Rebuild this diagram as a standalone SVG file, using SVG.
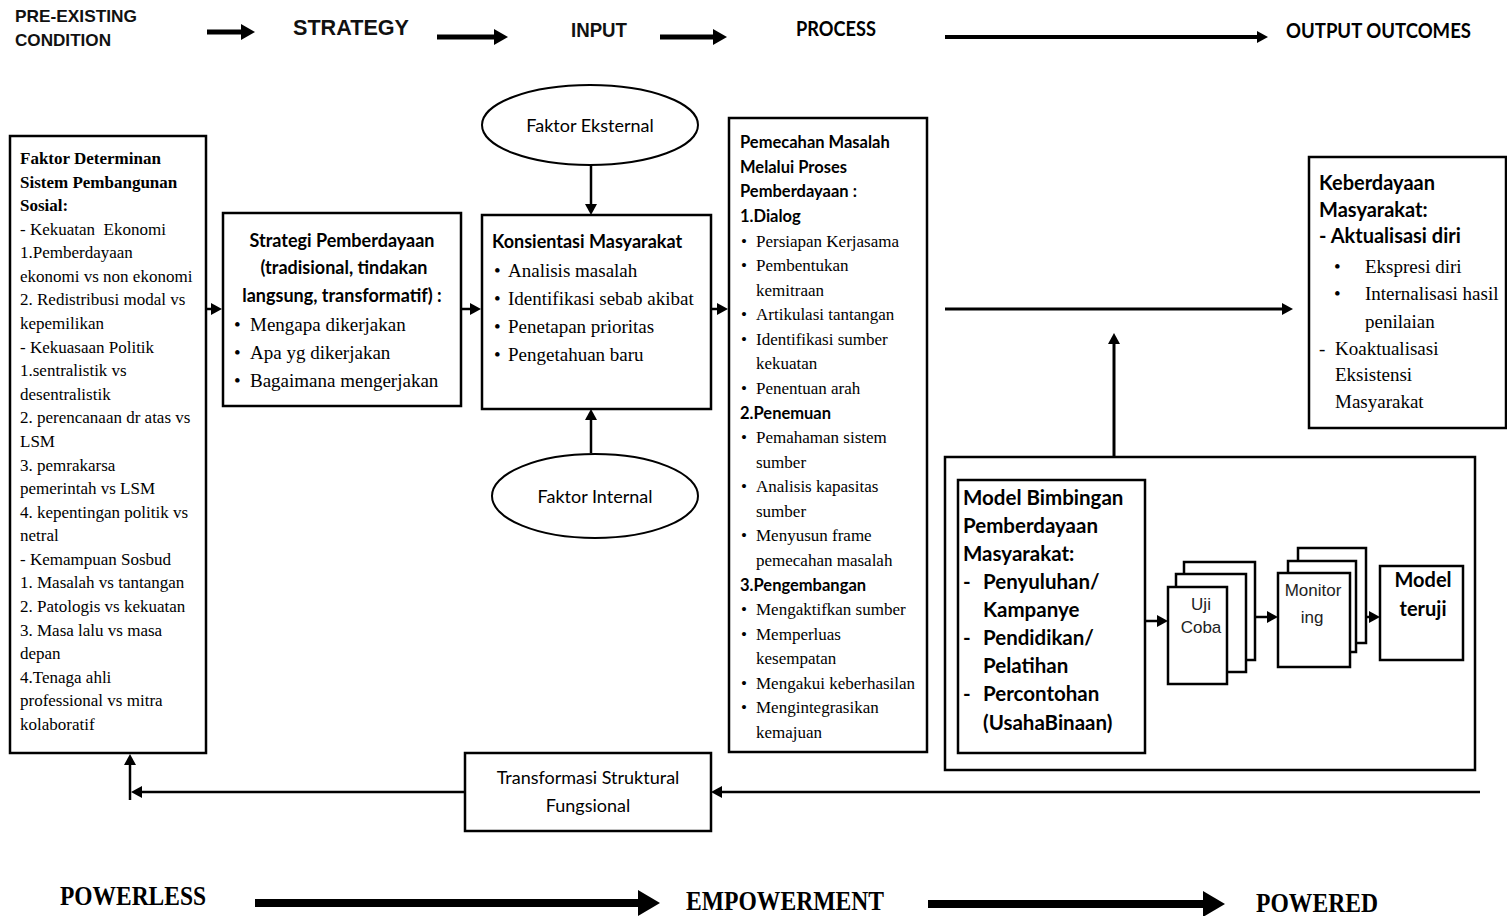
<svg xmlns="http://www.w3.org/2000/svg" width="1507" height="916" viewBox="0 0 1507 916">
<style>
.bx{fill:#fff;stroke:#000;stroke-width:2.5}
.el{fill:#fff;stroke:#000;stroke-width:2}
.hd{font-family:"Liberation Sans",Arial,sans-serif;font-weight:bold;fill:#111}
.cal{font-family:Lato,"Open Sans",sans-serif;fill:#000}
.cb{font-family:Lato,"Open Sans",sans-serif;font-weight:bold;fill:#000}
.sr{font-family:"Liberation Serif","Times New Roman",serif;fill:#000}
.srb{font-family:"Liberation Serif","Times New Roman",serif;font-weight:bold;fill:#000}
.ar{font-family:"Liberation Sans",Arial,sans-serif;fill:#222}
.big{font-family:"Liberation Serif",serif;font-weight:bold;fill:#000}
.c{stroke:#000;fill:none}
</style>
<defs>
<marker id="mh" markerUnits="userSpaceOnUse" markerWidth="14" markerHeight="16" refX="1" refY="8" orient="auto"><path d="M0,0 L14,8 L0,16 z" fill="#000"/></marker>
<marker id="ms" markerUnits="userSpaceOnUse" markerWidth="11" markerHeight="12" refX="1" refY="6" orient="auto"><path d="M0,0 L11,6 L0,12 z" fill="#000"/></marker>
<marker id="mb" markerUnits="userSpaceOnUse" markerWidth="22" markerHeight="26" refX="1" refY="13" orient="auto"><path d="M0,0 L22,13 L0,26 z" fill="#000"/></marker>
</defs>
<rect width="1507" height="916" fill="#fff"/>

<g id="header">
<text class="hd" x="15" y="22" font-size="17" textLength="122" lengthAdjust="spacingAndGlyphs">PRE-EXISTING</text>
<text class="hd" x="15" y="46" font-size="17" textLength="96" lengthAdjust="spacingAndGlyphs">CONDITION</text>
<text class="hd" x="293" y="35" font-size="22" textLength="116" lengthAdjust="spacingAndGlyphs">STRATEGY</text>
<text class="hd" x="571" y="37" font-size="20" textLength="56" lengthAdjust="spacingAndGlyphs">INPUT</text>
<text class="cb" x="796" y="36" font-size="20" textLength="80" lengthAdjust="spacingAndGlyphs">PROCESS</text>
<text class="cb" x="1286" y="38" font-size="21" textLength="185" lengthAdjust="spacingAndGlyphs">OUTPUT OUTCOMES</text>
</g>

<g id="faktor-determinan">
<rect class="bx" x="10" y="136" width="196" height="617"/>
<g font-size="17">
<text class="srb" x="20" y="164">Faktor Determinan</text>
<text class="srb" x="20" y="188">Sistem Pembangunan</text>
<text class="srb" x="20" y="211">Sosial:</text>
<text class="sr" x="20" y="235" xml:space="preserve">- Kekuatan  Ekonomi</text>
<text class="sr" x="20" y="258">1.Pemberdayaan</text>
<text class="sr" x="20" y="282">ekonomi vs non ekonomi</text>
<text class="sr" x="20" y="305">2. Redistribusi modal vs</text>
<text class="sr" x="20" y="329">kepemilikan</text>
<text class="sr" x="20" y="353">- Kekuasaan Politik</text>
<text class="sr" x="20" y="376">1.sentralistik vs</text>
<text class="sr" x="20" y="400">desentralistik</text>
<text class="sr" x="20" y="423">2. perencanaan dr atas vs</text>
<text class="sr" x="20" y="447">LSM</text>
<text class="sr" x="20" y="471">3. pemrakarsa</text>
<text class="sr" x="20" y="494">pemerintah vs LSM</text>
<text class="sr" x="20" y="518">4. kepentingan politik vs</text>
<text class="sr" x="20" y="541">netral</text>
<text class="sr" x="20" y="565">- Kemampuan Sosbud</text>
<text class="sr" x="20" y="588">1. Masalah vs tantangan</text>
<text class="sr" x="20" y="612">2. Patologis vs kekuatan</text>
<text class="sr" x="20" y="636">3. Masa lalu vs masa</text>
<text class="sr" x="20" y="659">depan</text>
<text class="sr" x="20" y="683">4.Tenaga ahli</text>
<text class="sr" x="20" y="706">professional vs mitra</text>
<text class="sr" x="20" y="730">kolaboratif</text>
</g>
</g>

<g id="strategi">
<rect class="bx" x="223" y="213" width="238" height="193"/>
<text class="cb" x="342" y="247" font-size="18" text-anchor="middle">Strategi Pemberdayaan</text>
<text class="cb" x="344" y="274" font-size="18" text-anchor="middle">(tradisional, tindakan</text>
<text class="cb" x="342" y="302" font-size="18" text-anchor="middle">langsung, transformatif) :</text>
<g class="sr" font-size="19">
<text x="234" y="331">•</text><text x="250" y="331">Mengapa dikerjakan</text>
<text x="234" y="359">•</text><text x="250" y="359">Apa yg dikerjakan</text>
<text x="234" y="387">•</text><text x="250" y="387">Bagaimana mengerjakan</text>
</g>
</g>

<g id="faktor-eksternal">
<ellipse class="el" cx="590" cy="125" rx="108" ry="40"/>
<text class="cal" x="590" y="132" font-size="18" text-anchor="middle">Faktor Eksternal</text>
</g>

<g id="konsientasi">
<rect class="bx" x="482" y="215" width="229" height="194"/>
<text class="cb" x="492" y="248" font-size="18">Konsientasi Masyarakat</text>
<g class="sr" font-size="19">
<text x="494" y="277">•</text><text x="508" y="277">Analisis masalah</text>
<text x="494" y="305">•</text><text x="508" y="305">Identifikasi sebab akibat</text>
<text x="494" y="333">•</text><text x="508" y="333">Penetapan prioritas</text>
<text x="494" y="361">•</text><text x="508" y="361">Pengetahuan baru</text>
</g>
</g>

<g id="faktor-internal">
<ellipse class="el" cx="595" cy="496" rx="103" ry="42"/>
<text class="cal" x="595" y="503" font-size="18" text-anchor="middle">Faktor Internal</text>
</g>

<g id="pemecahan">
<rect class="bx" x="729" y="118" width="198" height="634"/>
<g font-size="16.5">
<text class="cb" x="740" y="148">Pemecahan Masalah</text>
<text class="cb" x="740" y="173">Melalui Proses</text>
<text class="cb" x="740" y="197">Pemberdayaan :</text>
<text class="cb" x="740" y="222">1.Dialog</text>
<text class="cb" x="740" y="419">2.Penemuan</text>
<text class="cb" x="740" y="591">3.Pengembangan</text>
</g>
<g class="sr" font-size="17">
<text x="741" y="247">•</text><text x="756" y="247">Persiapan Kerjasama</text>
<text x="741" y="271">•</text><text x="756" y="271">Pembentukan</text>
<text x="756" y="296">kemitraan</text>
<text x="741" y="320">•</text><text x="756" y="320">Artikulasi tantangan</text>
<text x="741" y="345">•</text><text x="756" y="345">Identifikasi sumber</text>
<text x="756" y="369">kekuatan</text>
<text x="741" y="394">•</text><text x="756" y="394">Penentuan arah</text>
<text x="741" y="443">•</text><text x="756" y="443">Pemahaman sistem</text>
<text x="756" y="468">sumber</text>
<text x="741" y="492">•</text><text x="756" y="492">Analisis kapasitas</text>
<text x="756" y="517">sumber</text>
<text x="741" y="541">•</text><text x="756" y="541">Menyusun frame</text>
<text x="756" y="566">pemecahan masalah</text>
<text x="741" y="615">•</text><text x="756" y="615">Mengaktifkan sumber</text>
<text x="741" y="640">•</text><text x="756" y="640">Memperluas</text>
<text x="756" y="664">kesempatan</text>
<text x="741" y="689">•</text><text x="756" y="689">Mengakui keberhasilan</text>
<text x="741" y="713">•</text><text x="756" y="713">Mengintegrasikan</text>
<text x="756" y="738">kemajuan</text>
</g>
</g>

<g id="keberdayaan">
<rect class="bx" x="1309" y="157" width="197" height="271"/>
<g font-size="20">
<text class="cb" x="1319" y="190">Keberdayaan</text>
<text class="cb" x="1319" y="217">Masyarakat:</text>
<text class="cb" x="1319" y="243">- Aktualisasi diri</text>
</g>
<g class="sr" font-size="19">
<text x="1334" y="273">•</text><text x="1365" y="273">Ekspresi diri</text>
<text x="1334" y="300">•</text><text x="1365" y="300">Internalisasi hasil</text>
<text x="1365" y="328">penilaian</text>
<text x="1319" y="355">-</text><text x="1335" y="355">Koaktualisasi</text>
<text x="1335" y="381">Eksistensi</text>
<text x="1335" y="408">Masyarakat</text>
</g>
</g>

<g id="model-container">
<rect class="bx" x="945" y="457" width="530" height="313" stroke-width="3"/>
</g>

<g id="model-bimbingan">
<rect class="bx" x="958" y="480" width="187" height="273"/>
<g class="cb" font-size="20.5">
<text x="963" y="505">Model Bimbingan</text>
<text x="963" y="533">Pemberdayaan</text>
<text x="963" y="561">Masyarakat:</text>
<text x="963" y="589">-</text><text x="983" y="589">Penyuluhan/</text>
<text x="983" y="617">Kampanye</text>
<text x="963" y="645">-</text><text x="983" y="645">Pendidikan/</text>
<text x="983" y="673">Pelatihan</text>
<text x="963" y="701">-</text><text x="983" y="701">Percontohan</text>
<text x="983" y="730">(UsahaBinaan)</text>
</g>
</g>

<g id="uji-coba">
<rect class="bx" x="1184" y="562" width="71" height="98" stroke-width="2"/>
<rect class="bx" x="1176" y="574" width="70" height="98" stroke-width="2"/>
<rect class="bx" x="1168" y="587" width="59" height="97" stroke-width="2"/>
<text class="ar" x="1201" y="610" font-size="17" text-anchor="middle">Uji</text>
<text class="ar" x="1201" y="633" font-size="17" text-anchor="middle">Coba</text>
</g>

<g id="monitoring">
<rect class="bx" x="1298" y="548" width="68" height="95" stroke-width="2"/>
<rect class="bx" x="1288" y="561" width="68" height="91" stroke-width="2"/>
<rect class="bx" x="1278" y="573" width="72" height="94" stroke-width="2"/>
<text class="ar" x="1313" y="596" font-size="17" text-anchor="middle">Monitor</text>
<text class="ar" x="1312" y="623" font-size="17" text-anchor="middle">ing</text>
</g>

<g id="model-teruji">
<rect class="bx" x="1380" y="566" width="83" height="94" stroke-width="2"/>
<text class="cb" x="1423" y="587" font-size="20" text-anchor="middle">Model</text>
<text class="cb" x="1423" y="616" font-size="20" text-anchor="middle">teruji</text>
</g>

<g id="transformasi">
<rect class="bx" x="465" y="753" width="246" height="78" stroke-width="2"/>
<text class="cal" x="588" y="784" font-size="18" text-anchor="middle">Transformasi Struktural</text>
<text class="cal" x="588" y="812" font-size="18" text-anchor="middle">Fungsional</text>
</g>

<g id="footer">
<text class="big" x="60" y="905" font-size="28" textLength="146" lengthAdjust="spacingAndGlyphs">POWERLESS</text>
<text class="big" x="686" y="910" font-size="28" textLength="198" lengthAdjust="spacingAndGlyphs">EMPOWERMENT</text>
<text class="big" x="1256" y="912" font-size="28" textLength="122" lengthAdjust="spacingAndGlyphs">POWERED</text>
</g>

<g id="connectors">
<line class="c" x1="207" y1="32" x2="242" y2="32" stroke-width="5" marker-end="url(#mh)"/>
<line class="c" x1="437" y1="37" x2="495" y2="37" stroke-width="5" marker-end="url(#mh)"/>
<line class="c" x1="660" y1="37" x2="714" y2="37" stroke-width="5" marker-end="url(#mh)"/>
<line class="c" x1="945" y1="37" x2="1258" y2="37" stroke-width="4" marker-end="url(#ms)"/>
<line class="c" x1="206" y1="309" x2="212" y2="309" stroke-width="2.5" marker-end="url(#ms)"/>
<line class="c" x1="461" y1="309" x2="471" y2="309" stroke-width="2.5" marker-end="url(#ms)"/>
<line class="c" x1="711" y1="309" x2="718" y2="309" stroke-width="2.5" marker-end="url(#ms)"/>
<line class="c" x1="591" y1="165" x2="591" y2="205" stroke-width="2.5" marker-end="url(#ms)"/>
<line class="c" x1="591" y1="453" x2="591" y2="419" stroke-width="2.5" marker-end="url(#ms)"/>
<line class="c" x1="945" y1="309" x2="1283" y2="309" stroke-width="3" marker-end="url(#ms)"/>
<line class="c" x1="1114" y1="456" x2="1114" y2="343" stroke-width="3" marker-end="url(#ms)"/>
<line class="c" x1="1146" y1="621" x2="1158" y2="621" stroke-width="2.5" marker-end="url(#ms)"/>
<line class="c" x1="1256" y1="617" x2="1268" y2="617" stroke-width="2.5" marker-end="url(#ms)"/>
<line class="c" x1="1367" y1="617" x2="1370" y2="617" stroke-width="2.5" marker-end="url(#ms)"/>
<line class="c" x1="1480" y1="792" x2="721" y2="792" stroke-width="2.5" marker-end="url(#ms)"/>
<line class="c" x1="465" y1="792" x2="141" y2="792" stroke-width="2.5" marker-end="url(#ms)"/>
<line class="c" x1="130" y1="800" x2="130" y2="764" stroke-width="2.5" marker-end="url(#ms)"/>
<line class="c" x1="255" y1="903" x2="639" y2="903" stroke-width="8" marker-end="url(#mb)"/>
<line class="c" x1="928" y1="904" x2="1204" y2="904" stroke-width="8" marker-end="url(#mb)"/>
</g>
</svg>
